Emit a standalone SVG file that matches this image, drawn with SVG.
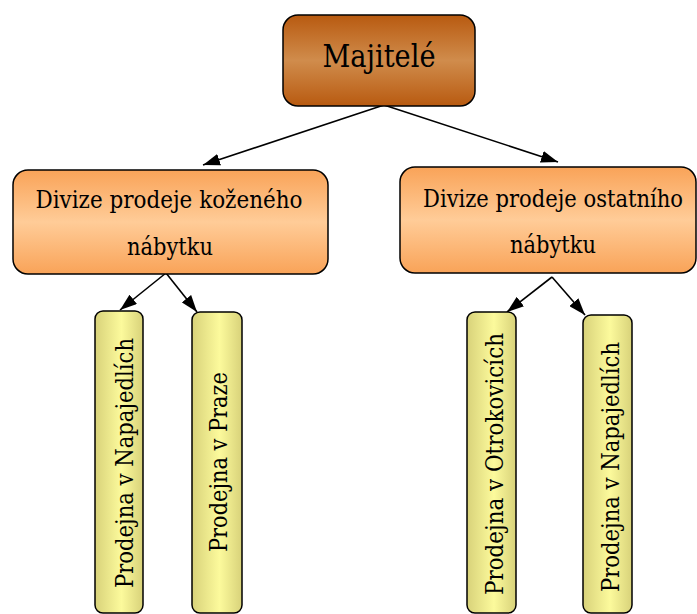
<svg xmlns="http://www.w3.org/2000/svg" width="697" height="614" viewBox="0 0 697 614">
<style>
.box{stroke:#000;stroke-width:1.5}
.c{stroke:#000;stroke-width:1.6;fill:none}
.t{font-family:'DejaVu Serif','Liberation Serif',serif;font-size:24px;fill:#000}
</style>
<defs>
<linearGradient id="gTop" x1="0" y1="0" x2="0" y2="1">
<stop offset="0" stop-color="#B85A10"/><stop offset="0.5" stop-color="#D08C4C"/><stop offset="1" stop-color="#B85A10"/>
</linearGradient>
<linearGradient id="gMid" x1="0" y1="0" x2="0" y2="1">
<stop offset="0" stop-color="#F9A358"/><stop offset="0.5" stop-color="#FFCC98"/><stop offset="1" stop-color="#F9A358"/>
</linearGradient>
<linearGradient id="gLeaf" x1="0" y1="0" x2="1" y2="0">
<stop offset="0" stop-color="#D8D27A"/><stop offset="0.55" stop-color="#FCFA9C"/><stop offset="1" stop-color="#D8D27A"/>
</linearGradient>
<marker id="ah" markerUnits="userSpaceOnUse" markerWidth="18" markerHeight="12" refX="17" refY="6" orient="auto">
<path d="M0,0 L17,6 L0,12 Z" fill="#000"/>
</marker>
</defs>
<g id="connectors">
<line class="c" x1="384" y1="105" x2="203" y2="165" marker-end="url(#ah)"/>
<line class="c" x1="384" y1="105" x2="558" y2="162" marker-end="url(#ah)"/>
<line class="c" x1="166" y1="273" x2="120" y2="310" marker-end="url(#ah)"/>
<line class="c" x1="166" y1="273" x2="197" y2="312" marker-end="url(#ah)"/>
<line class="c" x1="552" y1="277" x2="507" y2="312" marker-end="url(#ah)"/>
<line class="c" x1="552" y1="277" x2="585" y2="315" marker-end="url(#ah)"/>
</g>
<g id="majitele">
<rect class="box" x="283" y="15" width="192" height="91" rx="15" fill="url(#gTop)"/>
<text class="t" x="379" y="67" style="font-size:32px" text-anchor="middle" textLength="113" lengthAdjust="spacingAndGlyphs">Majitelé</text>
</g>
<g id="divize-kozeneho">
<rect class="box" x="13" y="170" width="315" height="104" rx="15" fill="url(#gMid)"/>
<text class="t" x="169" y="208" text-anchor="middle" textLength="267" lengthAdjust="spacingAndGlyphs">Divize prodeje koženého</text>
<text class="t" x="170" y="255" text-anchor="middle" textLength="86" lengthAdjust="spacingAndGlyphs">nábytku</text>
</g>
<g id="divize-ostatniho">
<rect class="box" x="400" y="167" width="296" height="106" rx="15" fill="url(#gMid)"/>
<text class="t" x="553" y="207" text-anchor="middle" textLength="260" lengthAdjust="spacingAndGlyphs">Divize prodeje ostatního</text>
<text class="t" x="553" y="253" text-anchor="middle" textLength="86" lengthAdjust="spacingAndGlyphs">nábytku</text>
</g>
<g id="prodejna-napajedla-1">
<rect class="box" x="95" y="311" width="48" height="302" rx="8" fill="url(#gLeaf)"/>
<text class="t" transform="translate(133,463) rotate(-90)" text-anchor="middle" textLength="250" lengthAdjust="spacingAndGlyphs">Prodejna v Napajedlích</text>
</g>
<g id="prodejna-praha">
<rect class="box" x="192" y="312" width="50" height="301" rx="8" fill="url(#gLeaf)"/>
<text class="t" transform="translate(227,462) rotate(-90)" text-anchor="middle" textLength="180" lengthAdjust="spacingAndGlyphs">Prodejna v Praze</text>
</g>
<g id="prodejna-otrokovice">
<rect class="box" x="467" y="312" width="49" height="301" rx="8" fill="url(#gLeaf)"/>
<text class="t" transform="translate(503,464) rotate(-90)" text-anchor="middle" textLength="262" lengthAdjust="spacingAndGlyphs">Prodejna v Otrokovicích</text>
</g>
<g id="prodejna-napajedla-2">
<rect class="box" x="583" y="315" width="49" height="298" rx="8" fill="url(#gLeaf)"/>
<text class="t" transform="translate(619,467) rotate(-90)" text-anchor="middle" textLength="250" lengthAdjust="spacingAndGlyphs">Prodejna v Napajedlích</text>
</g>
</svg>
